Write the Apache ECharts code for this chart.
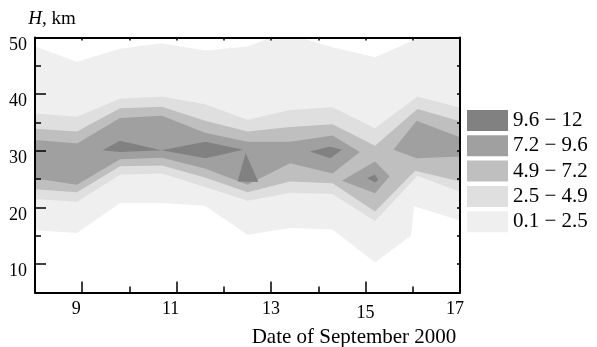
<!DOCTYPE html>
<html>
<head>
<meta charset="utf-8">
<script src="https://cdn.jsdelivr.net/npm/echarts@6/dist/echarts.min.js"></script>
<style>
  html, body { margin: 0; padding: 0; background: #fff; }
  #chart { width: 597px; height: 347px; }
</style>
</head>
<body>
<div id="chart"></div>
<script>
var FONT = "'Liberation Serif', 'Times New Roman', serif";

var bandNames = ["0.1 − 2.5", "2.5 − 4.9", "4.9 − 7.2", "7.2 − 9.6", "9.6 − 12"];
var bandColors = ["#efefef", "#dfdfdf", "#bfbfbf", "#a0a0a0", "#818181"];
var xLabels = [9, 11, 13, 15, 17];
var yLabels = [10, 20, 30, 40, 50];

// contour outlines, points are [date, km]
var band1Top = [[8, 48.4], [8.89, 45.7], [9.8, 48.0], [10.69, 49.0], [11.6, 47.7], [12.5, 48.4],
  [13.0, 50], [13.6, 50], [14.3, 48.3], [15.2, 46.5], [16.15, 50], [17, 50]];
var band1Bottom = [[8, 16.0], [8.89, 15.5], [9.8, 20.8], [10.69, 20.8], [11.6, 20.3], [12.5, 15.2],
  [13.4, 16.4], [14.3, 16.1], [15.2, 10.3], [15.96, 15.0], [16.03, 20.2], [17, 17.7]];

var band2Top = [[8, 36.6], [8.89, 36.0], [9.8, 39.2], [10.69, 39.6], [11.6, 38.2], [12.5, 35.5],
  [13.4, 37.2], [14.3, 37.7], [15.2, 34.0], [16.1, 39.6], [17, 37.6]];
var band2Bottom = [[8, 21.5], [8.89, 21.0], [9.8, 25.8], [10.69, 26.0], [11.6, 23.6], [12.5, 21.2],
  [13.4, 22.6], [14.3, 22.4], [15.2, 17.6], [16.1, 25.6], [17, 22.8]];

var band3Top = [[8, 33.9], [8.89, 33.4], [9.8, 37.5], [10.69, 37.8], [11.6, 35.3], [12.5, 33.4],
  [13.4, 34.2], [14.3, 34.7], [15.2, 30.9], [16.1, 37.4], [17, 35.2]];
var band3Bottom = [[8, 23.2], [8.89, 22.7], [9.8, 27.3], [10.69, 27.4], [11.6, 25.3], [12.5, 22.7],
  [13.4, 24.6], [14.3, 24.3], [15.2, 19.3], [16.05, 26.5], [17, 24.6]];

var band4Top = [[8, 31.9], [8.89, 31.3], [9.8, 35.8], [10.69, 36.2], [11.6, 33.2], [12.5, 31.6],
  [13.4, 31.6], [14.3, 32.7], [14.88, 29.8]];
var band4Bottom = [[8, 25.1], [8.89, 24.0], [9.8, 28.5], [10.69, 28.8], [11.6, 26.9], [12.5, 24.0],
  [13.4, 27.8], [14.3, 26.0]];
var band4Patch = [[14.5, 24.7], [15.2, 28.1], [15.51, 25.5], [15.2, 22.5]];
var band4Right = [[15.59, 30.2], [16.08, 35.3], [17, 32.4], [17, 29.0], [16.08, 28.7]];

var band5A = [[9.43, 30.1], [9.8, 31.8], [10.68, 30.1], [9.8, 29.8]];
var band5B = [[10.68, 30.1], [11.61, 31.6], [12.41, 30.2], [11.61, 28.7]];
var band5C = [[12.46, 29.6], [12.73, 24.5], [12.29, 24.6]];
var band5D = [[13.82, 29.9], [14.25, 30.75], [14.5, 30.2], [14.25, 28.7]];
var band5E = [[15.03, 25.2], [15.2, 25.8], [15.27, 24.9], [15.2, 24.4]];

function ring(top, bottom) {
  return top.concat(bottom.slice().reverse());
}

function polySeries(band, pts) {
  var color = bandColors[band];
  return {
    type: "custom",
    name: bandNames[band],
    silent: true,
    itemStyle: { color: color },
    data: pts,
    renderItem: function (params, api) {
      if (params.dataIndex !== 0) return;
      return {
        type: "polygon",
        shape: { points: pts.map(function (p) { return api.coord(p); }) },
        style: { fill: color }
      };
    }
  };
}

var series = [
  polySeries(0, ring(band1Top, band1Bottom)),
  polySeries(1, ring(band2Top, band2Bottom)),
  polySeries(2, ring(band3Top, band3Bottom)),
  polySeries(3, ring(band4Top, band4Bottom)),
  polySeries(3, band4Patch),
  polySeries(3, band4Right),
  polySeries(4, band5A),
  polySeries(4, band5B),
  polySeries(4, band5C),
  polySeries(4, band5D),
  polySeries(4, band5E)
];

var black = { color: "#000", width: 2 };
var tickLine = { color: "#000", width: 1.5 };
var numStyle = { fontFamily: FONT, fontSize: 18, color: "#000" };

var option = {
  animation: false,
  grid: { left: 35, right: 137, top: 37.5, bottom: 54.5, outerBoundsMode: "none", containLabel: false },
  legend: {
    data: bandNames.slice().reverse(),
    orient: "vertical",
    left: 462,
    top: 105,
    icon: "rect",
    itemWidth: 41,
    itemHeight: 21,
    itemGap: 4.3,
    selectedMode: false,
    textStyle: { fontFamily: FONT, fontSize: 21, color: "#000" }
  },
  xAxis: [
    {
      type: "value", min: 8, max: 17, interval: 1, position: "bottom", z: 10,
      axisLine: { lineStyle: black },
      axisTick: { inside: true, length: 6, lineStyle: tickLine },
      axisLabel: { show: false },
      splitLine: { show: false }
    },
    {
      type: "value", min: 8, max: 17, position: "bottom", z: 10,
      axisLine: { show: false },
      axisTick: { inside: true, length: 11, customValues: xLabels, lineStyle: tickLine },
      axisLabel: {
        customValues: xLabels,
        margin: 8,
        color: "#000",
        fontFamily: FONT,
        fontSize: 18,
        formatter: function (v) {
          if (v === 9 || v === 11) return "{l|" + v + "}";
          if (v === 15) return "{d|" + v + "}";
          if (v === 17) return "{r|" + v + "}";
          return "{n|" + v + "}";
        },
        rich: {
          n: numStyle,
          l: Object.assign({ padding: [0, 12, 0, 0] }, numStyle),
          d: Object.assign({ padding: [4, 0, 0, 0] }, numStyle),
          r: Object.assign({ padding: [0, 10, 0, 0] }, numStyle)
        }
      },
      splitLine: { show: false },
      name: "Date of September 2000",
      nameLocation: "middle",
      nameGap: 27,
      nameTextStyle: {
        fontFamily: FONT, fontSize: 21, color: "#000",
        verticalAlign: "top", padding: [0, 0, 0, 213]
      }
    },
    {
      type: "value", min: 8, max: 17, interval: 1, position: "top", z: 10,
      axisLine: { lineStyle: black },
      axisTick: { inside: true, length: 3, lineStyle: tickLine },
      axisLabel: { show: false },
      splitLine: { show: false }
    }
  ],
  yAxis: [
    {
      type: "value", min: 5, max: 50, interval: 5, position: "left", z: 10,
      axisLine: { lineStyle: black },
      axisTick: { inside: true, length: 6, lineStyle: tickLine },
      axisLabel: { show: false },
      splitLine: { show: false }
    },
    {
      type: "value", min: 5, max: 50, position: "left", z: 10,
      axisLine: { show: false },
      axisTick: { inside: true, length: 11, customValues: yLabels, lineStyle: tickLine },
      axisLabel: {
        customValues: yLabels,
        margin: 8,
        color: "#000",
        fontFamily: FONT,
        fontSize: 18,
        verticalAlign: "top",
        lineHeight: 15
      },
      splitLine: { show: false },
      name: "{i|H}, km",
      nameLocation: "end",
      nameGap: 9,
      nameTextStyle: {
        fontFamily: FONT, fontSize: 19, color: "#000",
        align: "center", padding: [0, 0, 0, 34],
        rich: { i: { fontFamily: FONT, fontSize: 19, fontStyle: "italic", color: "#000" } }
      }
    },
    {
      type: "value", min: 5, max: 50, interval: 5, position: "right", z: 10,
      axisLine: { lineStyle: black },
      axisTick: { inside: true, length: 3, lineStyle: tickLine },
      axisLabel: { show: false },
      splitLine: { show: false }
    }
  ],
  series: series
};

var chart = echarts.init(document.getElementById("chart"), null, { renderer: "canvas" });
chart.setOption(option);
</script>
</body>
</html>
